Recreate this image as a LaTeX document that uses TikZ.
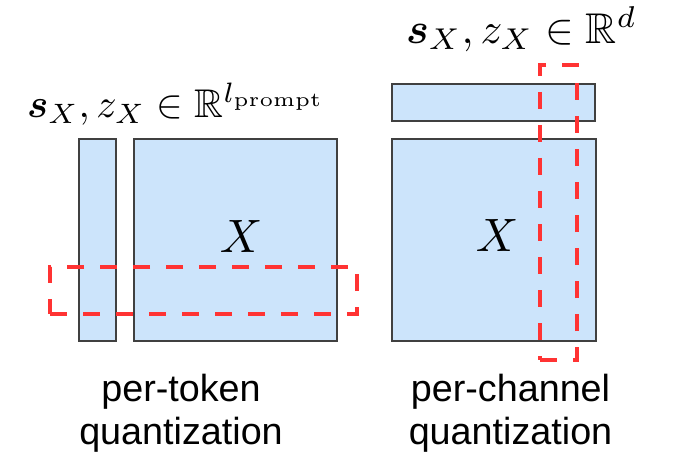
\documentclass[tikz,border=0pt]{standalone}
\usepackage{amsmath,amssymb,bm}
\usepackage[no-math]{fontspec}
\setmainfont{Liberation Sans}
\definecolor{boxblue}{HTML}{CCE4FB}
\definecolor{boxedge}{HTML}{404040}
\definecolor{qred}{HTML}{FF3333}
\begin{document}
\begin{tikzpicture}[x=0.75pt,y=-0.75pt,
  blk/.style={draw=boxedge, fill=boxblue, line width=1.5pt, inner sep=0pt, outer sep=0pt},
  qbox/.style={draw=qred, line width=3.7pt, dash pattern=on 12.75pt off 12pt, inner sep=0pt, outer sep=0pt},
  captxt/.style={font=\fontsize{28.3pt}{32.5pt}\selectfont, align=center, inner sep=0pt},
  bigx/.style={inner sep=0pt}]
\useasboundingbox (0,0) rectangle (691,463);
% left: per-token
\node[blk, minimum width={37*0.75pt}, minimum height={202*0.75pt}] (tokvec) at (97.5,240) {};
\node[blk, minimum width={203*0.75pt}, minimum height={202*0.75pt}] (matL) at (235.5,240) {};
\node[bigx] (xL) at (241,236) {\resizebox{!}{24pt}{$X$}};
\node[qbox, minimum width={307*0.75pt}, minimum height={47*0.75pt}] (rowsel) at (203.5,290.5) {};
\node[inner sep=0pt] (labL) at (176,104) {\resizebox{223.5pt}{!}{$\boldsymbol{s}_X, z_X \in \mathbb{R}^{l_{\mathrm{prompt}}}$}};
\node[captxt] (capL) at (181,413) {per-token\\quantization};
% right: per-channel
\node[blk, minimum width={203*0.75pt}, minimum height={37*0.75pt}] (chvec) at (493.5,102.5) {};
\node[blk, minimum width={204*0.75pt}, minimum height={202*0.75pt}] (matR) at (494,240) {};
\node[bigx] (xR) at (497,235) {\resizebox{!}{24pt}{$X$}};
\node[qbox, minimum width={37*0.75pt}, minimum height={295*0.75pt}] (colsel) at (558.5,212.5) {};
\node[inner sep=0pt] (labR) at (521.5,29) {\resizebox{173.25pt}{!}{$\boldsymbol{s}_X, z_X \in \mathbb{R}^{d}$}};
\node[captxt] (capR) at (510.5,413) {per-channel\\quantization};
\end{tikzpicture}
\end{document}
